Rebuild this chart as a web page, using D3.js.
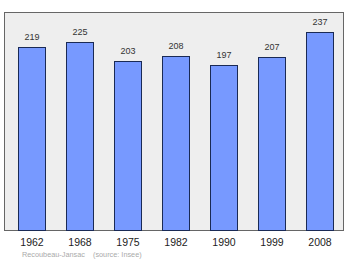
<!DOCTYPE html>
<html>
<head>
<meta charset="utf-8">
<script src="https://cdn.jsdelivr.net/npm/d3@7"></script>
<style>
  body { margin: 0; background: #fff; }
  text { font-family: "Liberation Sans", Arial, sans-serif; }
</style>
</head>
<body>
<div id="chart"></div>
<script>
// Data
const years = ["1962", "1968", "1975", "1982", "1990", "1999", "2008"];
const population = [219, 225, 203, 208, 197, 207, 237];
const credit = "Recoubeau-Jansac    (source: Insee)";

// Dimensions
const width = 350;
const height = 262;
const frame = { left: 4, top: 12, right: 344, bottom: 231 };

const svg = d3.select("#chart")
  .append("svg")
  .attr("width", width)
  .attr("height", height);

// Scales
const x = d3.scaleBand()
  .domain(years)
  .range([8, 344])
  .paddingInner(20 / 48)
  .paddingOuter(10 / 48);

const y = d3.scaleLinear()
  .domain([0, 240])
  .range([228, 30]);

// Plot frame
svg.append("rect")
  .attr("x", frame.left + 0.5)
  .attr("y", frame.top + 0.5)
  .attr("width", frame.right - frame.left - 1)
  .attr("height", frame.bottom - frame.top - 1)
  .attr("fill", "#eeeeee")
  .attr("stroke", "#666")
  .attr("stroke-width", 1);

// Bars
svg.append("g")
  .selectAll("rect")
  .data(population)
  .join("rect")
  .attr("x", (d, i) => x(years[i]) + 0.5)
  .attr("y", d => Math.round(y(d)) + 0.5)
  .attr("width", x.bandwidth() - 1)
  .attr("height", d => frame.bottom - 1 - Math.round(y(d)))
  .attr("fill", "#7799ff")
  .attr("stroke", "#1a2a55")
  .attr("stroke-width", 1);

// Value labels
svg.append("g")
  .selectAll("text")
  .data(population)
  .join("text")
  .attr("x", (d, i) => x(years[i]) + x.bandwidth() / 2)
  .attr("y", d => Math.round(y(d)) - 7)
  .attr("text-anchor", "middle")
  .style("font-size", "9px")
  .attr("fill", "#333")
  .text(d => d);

// Year axis
svg.append("g")
  .selectAll("text")
  .data(years)
  .join("text")
  .attr("x", d => x(d) + x.bandwidth() / 2)
  .attr("y", 246)
  .attr("text-anchor", "middle")
  .style("font-size", "10.5px")
  .attr("fill", "#222")
  .text(d => d);

// Credit
svg.append("text")
  .attr("x", 22)
  .attr("y", 257)
  .style("font-size", "7.3px")
  .style("white-space", "pre")
  .attr("xml:space", "preserve")
  .attr("fill", "#aaa")
  .text(credit);
</script>
</body>
</html>
